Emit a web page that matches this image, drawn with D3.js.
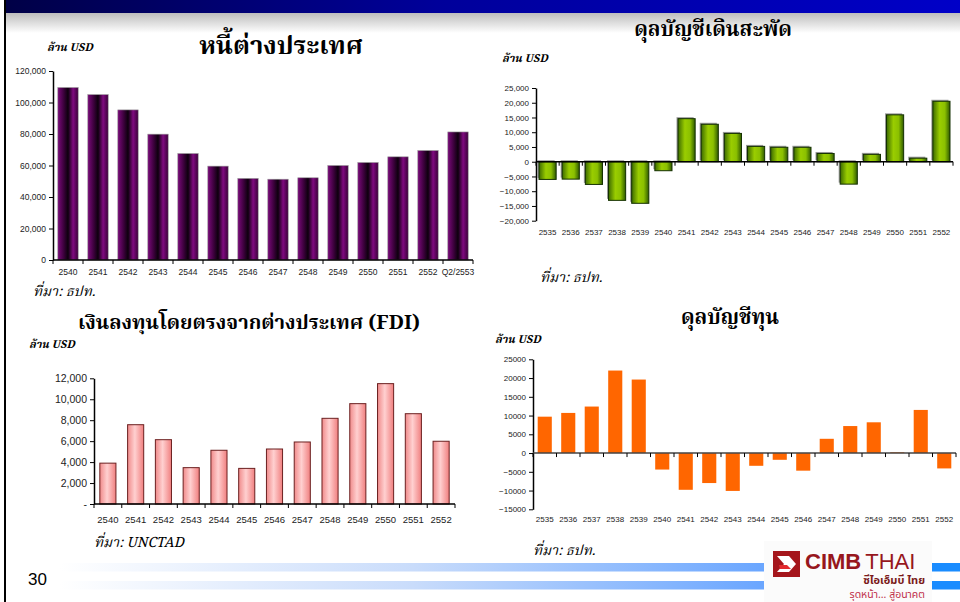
<!DOCTYPE html>
<html lang="th">
<head>
<meta charset="utf-8">
<title>Slide 30</title>
<script src="https://d3js.org/d3.v7.min.js"></script>
<style>
  body { margin: 0; background: #fff; }
  svg { display: block; }
  .tick text { fill: #222; font-family: Arial, "Liberation Sans", sans-serif; }
  .title { font-family: "Noto Serif Thai", "Tlwg Typo", "Loma", "Noto Sans Thai", serif; font-weight: bold; fill: #000; }
  .unit, .src { font-family: "Noto Serif Thai", "Liberation Serif", serif; font-style: italic; fill: #000; }
</style>
</head>
<body>
<script>
// ---- data ----
var debtYears = ["2540","2541","2542","2543","2544","2545","2546","2547","2548","2549","2550","2551","2552","Q2/2553"];
var debtValues = [109500,105000,95300,79900,67600,59600,51800,51300,52200,60000,61900,65500,69500,81300];
var debtTicks = [0,20000,40000,60000,80000,100000,120000];

var caYears = ["2535","2536","2537","2538","2539","2540","2541","2542","2543","2544","2545","2546","2547","2548","2549","2550","2551","2552"];
var caValues = [-6000,-5900,-7700,-13100,-14100,-3050,14600,12700,9600,5200,4900,4900,2800,-7600,2500,15900,1200,20500];
var caTicks = [-20000,-15000,-10000,-5000,0,5000,10000,15000,20000,25000];

var fdiYears = ["2540","2541","2542","2543","2544","2545","2546","2547","2548","2549","2550","2551","2552"];
var fdiValues = [3900,7570,6140,3470,5130,3400,5250,5920,8180,9580,11490,8620,5990];
var fdiTicks = [0,2000,4000,6000,8000,10000,12000];

var capYears = caYears;
var capValues = [9700,10700,12400,22000,19600,-4400,-9800,-8000,-10100,-3400,-1800,-4700,3800,7200,8200,200,11500,-4100];
var capTicks = [-15000,-10000,-5000,0,5000,10000,15000,20000,25000];

var W = 960, H = 602;
var svg = d3.select("body").append("svg").attr("width", W).attr("height", H);
var defs = svg.append("defs");

// ---- slide decoration ----
var gTop = defs.append("linearGradient").attr("id","topbar");
gTop.append("stop").attr("offset","0%").attr("stop-color","#000046");
gTop.append("stop").attr("offset","45%").attr("stop-color","#00009a");
gTop.append("stop").attr("offset","100%").attr("stop-color","#0000c8");
var gShade = defs.append("linearGradient").attr("id","shade").attr("x1",0).attr("x2",0).attr("y1",0).attr("y2",1);
gShade.append("stop").attr("offset","0%").attr("stop-color","#bdbdbd");
gShade.append("stop").attr("offset","100%").attr("stop-color","#ffffff");
var gStripe = defs.append("linearGradient").attr("id","stripe").attr("gradientUnits","userSpaceOnUse")
  .attr("x1",60).attr("x2",765).attr("y1",0).attr("y2",0);
gStripe.append("stop").attr("offset","0%").attr("stop-color","#ffffff");
gStripe.append("stop").attr("offset","50%").attr("stop-color","#c9dcfb");
gStripe.append("stop").attr("offset","100%").attr("stop-color","#6aa6ff");

svg.append("rect").attr("x",6).attr("y",13).attr("width",W).attr("height",20).attr("fill","url(#shade)");
svg.append("rect").attr("x",4).attr("y",0).attr("width",W).attr("height",13).attr("fill","url(#topbar)");
svg.append("rect").attr("x",4).attr("y",0).attr("width",2).attr("height",H).attr("fill","#000");

[563, 581].forEach(function(y) {
  svg.append("rect").attr("x",60).attr("y",y).attr("width",705).attr("height",8.5).attr("fill","url(#stripe)");
  svg.append("rect").attr("x",932).attr("y",y).attr("width",28).attr("height",8.5).attr("fill","#1a8cff");
});

svg.append("text").attr("x",28).attr("y",585).attr("font-family","Arial, 'Liberation Sans', sans-serif")
  .attr("font-size",17).attr("fill","#000").text("30");

// logo
var logo = svg.append("g");
logo.append("rect").attr("x",764).attr("y",541).attr("width",168).attr("height",61).attr("fill","#fbfbfb");
logo.append("rect").attr("x",773).attr("y",551).attr("width",27).attr("height",26).attr("fill","#a5161c");
logo.append("path").attr("d","M777,556 L789,556 L796,564 L789,572 L777,572 L784,564 Z").attr("fill","#fff");
logo.append("path").attr("d","M779,565 L787,565 L791,569 L780,569 Z").attr("fill","#e22a2e");
logo.append("text").attr("x",805).attr("y",569).attr("font-family","Arial, 'Liberation Sans', sans-serif")
  .attr("font-size",22).attr("fill","#97171d").attr("font-weight","bold").text("CIMB")
  .append("tspan").attr("font-weight","normal").attr("dx",4).text("THAI");
logo.append("text").attr("x",925).attr("y",583.5).attr("text-anchor","end")
  .attr("font-family","'Noto Sans Thai', Loma, sans-serif").attr("font-weight","bold")
  .attr("font-size",11).attr("fill","#7a1a1a").text("ซีไอเอ็มบี ไทย");
logo.append("text").attr("x",925).attr("y",597.5).attr("text-anchor","end")
  .attr("font-family","'Noto Sans Thai', Loma, sans-serif")
  .attr("font-size",10.5).attr("fill","#c0304a").text("รุดหน้า... สู่อนาคต");

// ---- gradients for bars ----
function hGrad(id, stops) {
  var g = defs.append("linearGradient").attr("id", id);
  stops.forEach(function(s) { g.append("stop").attr("offset", s[0]).attr("stop-color", s[1]); });
}
hGrad("purple", [["0%","#7a0a7a"],["30%","#3a003a"],["50%","#0c000c"],["75%","#800a80"],["100%","#3a003a"]]);
hGrad("green", [["0%","#3d6b00"],["40%","#9acd00"],["70%","#8bc000"],["100%","#2f5a00"]]);
hGrad("pink", [["0%","#f08a8a"],["45%","#ffd0d0"],["100%","#f07f7f"]]);

// ---- chart helper ----
function barChart(o) {
  var g = svg.append("g");
  var y = d3.scaleLinear().domain(o.domain).range([o.yBottom, o.yTop]);
  var x = d3.scaleBand().domain(o.cats).range([o.x0, o.x1]).paddingInner(o.pad).paddingOuter(o.pad / 2);
  var zero = y(0);

  if (o.shadow) {
    g.selectAll("rect.sh").data(o.values).enter().append("rect")
      .attr("x", function(d, i) { return x(o.cats[i]) - 1.5; })
      .attr("y", function(d) { return Math.min(y(d), zero) - 1.5; })
      .attr("width", x.bandwidth())
      .attr("height", function(d) { return Math.abs(y(d) - zero); })
      .attr("fill", o.shadow);
  }
  g.selectAll("rect.bar").data(o.values).enter().append("rect")
    .attr("class","bar")
    .attr("x", function(d, i) { return x(o.cats[i]); })
    .attr("y", function(d) { return Math.min(y(d), zero); })
    .attr("width", x.bandwidth())
    .attr("height", function(d) { return Math.max(0.8, Math.abs(y(d) - zero)); })
    .attr("fill", o.fill)
    .attr("stroke", o.stroke || "none")
    .attr("stroke-width", o.strokeW || 1);

  var ya = g.append("g").attr("transform","translate(" + o.x0 + ",0)")
    .call(d3.axisLeft(y).tickValues(o.ticks).tickSize(4).tickSizeOuter(0).tickPadding(3).tickFormat(o.fmt));
  ya.selectAll("text").attr("font-size", o.fsY);
  ya.select(".domain").attr("stroke","#000").attr("stroke-width",1.5);

  // category axis along zero line
  var xa = g.append("g");
  xa.append("line").attr("x1", o.x0).attr("x2", o.x1).attr("y1", zero).attr("y2", zero)
    .attr("stroke", o.axisColor || "#000").attr("stroke-width", 1.5);
  xa.selectAll("line.tk").data(o.cats).enter().append("line")
    .attr("x1", function(d) { return x(d) - x.step() * o.pad / 2; })
    .attr("x2", function(d) { return x(d) - x.step() * o.pad / 2; })
    .attr("y1", zero).attr("y2", zero + 4).attr("stroke","#000");
  xa.append("line").attr("x1", o.x1).attr("x2", o.x1).attr("y1", zero).attr("y2", zero + 4).attr("stroke","#000");
  xa.selectAll("text").data(o.cats).enter().append("text")
    .attr("x", function(d) { return x(d) + x.bandwidth() / 2; })
    .attr("y", o.labelY)
    .attr("text-anchor","middle")
    .attr("font-family","Arial, 'Liberation Sans', sans-serif")
    .attr("font-size", o.fsX).attr("fill","#222")
    .text(function(d) { return d; });

  svg.append("text").attr("class","title").attr("x", o.titleX).attr("y", o.titleY)
    .attr("text-anchor","middle").attr("font-size", o.titleSize).text(o.title);
  svg.append("text").attr("class","unit").attr("font-weight","bold").attr("x", o.unitX).attr("y", o.unitY)
    .attr("font-size", 11).text("ล้าน USD");
  svg.append("text").attr("class","src").attr("x", o.srcX).attr("y", o.srcY)
    .attr("font-size", 14).text(o.src);
}

barChart({
  cats: debtYears, values: debtValues, ticks: debtTicks, domain: [0,120000],
  x0: 53, x1: 473, yTop: 71, yBottom: 260, pad: 0.32,
  fill: "url(#purple)", stroke: "#999", strokeW: 0.6,
  fmt: d3.format(","), fsY: 8.5, fsX: 8.5, labelY: 275,
  title: "หนี้ต่างประเทศ", titleX: 281, titleY: 54, titleSize: 25.5,
  unitX: 47, unitY: 51, srcX: 33, srcY: 296, src: "ที่มา: ธปท."
});

barChart({
  cats: caYears, values: caValues, ticks: caTicks, domain: [-20000,25000],
  x0: 536, x1: 953, yTop: 88, yBottom: 220.7, pad: 0.26,
  fill: "url(#green)", stroke: "#143000", strokeW: 1, shadow: "#9a9a9a",
  fmt: d3.format(","), fsY: 8, fsX: 8, labelY: 234.5,
  title: "ดุลบัญชีเดินสะพัด", titleX: 713, titleY: 36, titleSize: 20.5,
  unitX: 502, unitY: 62, srcX: 540, srcY: 282, src: "ที่มา: ธปท."
});

barChart({
  cats: fdiYears, values: fdiValues, ticks: fdiTicks, domain: [0,12000],
  x0: 94, x1: 455, yTop: 378.3, yBottom: 504, pad: 0.42,
  fill: "url(#pink)", stroke: "#6b2020", strokeW: 1,
  fmt: function(d) { return d === 0 ? "-" : d3.format(",")(d); }, fsY: 10.5, fsX: 9.5, labelY: 522.5,
  title: "เงินลงทุนโดยตรงจากต่างประเทศ (FDI)", titleX: 249, titleY: 329, titleSize: 20,
  unitX: 29, unitY: 348, srcX: 94, srcY: 547, src: "ที่มา: UNCTAD"
});

barChart({
  cats: capYears, values: capValues, ticks: capTicks, domain: [-15000,25000],
  x0: 533, x1: 956, yTop: 359.3, yBottom: 509.3, pad: 0.4,
  fill: "#ff6600", axisColor: "#444",
  fmt: d3.format("d"), fsY: 8, fsX: 8, labelY: 522,
  title: "ดุลบัญชีทุน", titleX: 730, titleY: 324, titleSize: 20.5,
  unitX: 495, unitY: 343, srcX: 533, srcY: 555, src: "ที่มา: ธปท."
});
</script>
</body>
</html>
